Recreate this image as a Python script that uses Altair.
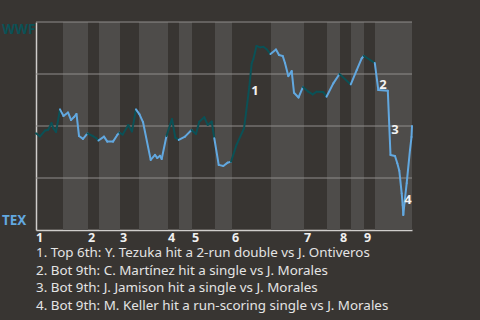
import altair as alt
import pandas as pd

# play position (sequence along the game) and WWF win probability (%)
play = [0, 4, 9, 12, 15.5, 17.5, 20, 24, 27.5, 32, 35, 38, 40.5, 43, 47, 51.5,
        56.5, 60, 62.5, 68, 71.3, 77, 81.3, 83.3, 86.7, 92.3, 96, 100, 103.5, 107,
        114.7, 119, 121.3, 124, 125.7, 130.5, 136, 139.3, 142.8, 149, 155.5, 160,
        163.3, 168.3, 171.7, 175.7, 178.3, 182.7, 187.3, 191.7, 195, 200.5, 208,
        210, 213.3, 215.7, 217.3, 220.5, 224, 227.3, 230.7, 234.5, 240, 243, 246.7,
        249, 252.3, 255.7, 258, 262.5, 267, 272.3, 276.7, 280.7, 287.3, 290.5,
        297.3, 303.5, 314.8, 320.7, 325.7, 327.8, 338.8, 342.3, 351.8, 354.5, 359,
        361.3, 363.3, 365.7, 366.7, 367.3, 368.5, 370.7, 374, 375.5, 376]
wp = [46.5, 45.0, 47.8, 48.1, 51.4, 48.8, 47.1, 58.0, 54.8, 56.5, 52.9, 54.3, 55.8, 45.2, 43.8, 46.5,
      45.2, 44.2, 43.0, 44.9, 42.5, 42.5, 45.7, 46.8, 45.9, 50.5, 47.4, 58.0, 55.6, 51.9,
      33.7, 36.1, 34.6, 35.7, 34.1, 45.2, 53.4, 44.4, 43.3, 44.9, 48.1, 46.2,
      52.1, 54.2, 50.5, 52.1, 44.1, 31.3, 30.8, 32.4, 32.8, 40.9, 48.9,
      56.1, 68.9, 80.1, 82.1, 88.5, 87.8, 88.1, 86.9, 84.6, 86.8, 84.1, 83.7,
      80.3, 74.0, 76.4, 66.0, 63.7, 68.8, 66.5, 65.2, 66.5, 66.3, 64.1,
      70.5, 75.0, 70.0, 76.9, 82.5, 83.7, 80.3, 67.3, 67.0, 36.1, 35.6,
      32.1, 28.5, 17.6, 12.0, 7.2, 13.0, 22.5, 38.5, 44.7, 50.0]

innings = ["1", "2", "3", "4", "5", "6", "7", "8", "9"]
inning_start = [0, 52, 84, 132, 156, 196, 268, 304, 328]
bottom_start = [27, 63, 103, 143, 179, 235, 291, 315, 339]
game_end = 376

event_id = ["1", "2", "3", "4"]
event_play = [219, 347, 359, 372]
event_wp = [66.8, 69.7, 48.1, 14.4]

notes = [
    "1. Top 6th: Y. Tezuka hit a 2-run double vs J. Ontiveros",
    "2. Bot 9th: C. Martínez hit a single vs J. Morales",
    "3. Bot 9th: J. Jamison hit a single vs J. Morales",
    "4. Bot 9th: M. Keller hit a run-scoring single vs J. Morales",
]

grid_values = [25, 50, 75, 100]

TEAL = "#0b5156"
BLUE = "#62a8e0"
BG = "#383532"
BAND = "#4e4c4a"
FONT = "Noto Sans"


def half_of(x):
    for i in range(len(inning_start) - 1, -1, -1):
        if x >= inning_start[i]:
            return "bottom" if x >= bottom_start[i] else "top"
    return "top"


seg_rows = []
for i in range(1, len(play)):
    seg_rows.append({"x": play[i - 1], "x2": play[i], "y": wp[i - 1], "y2": wp[i],
                     "half": half_of(play[i])})
segs = pd.DataFrame(seg_rows)

band_rows = []
for i, b in enumerate(bottom_start):
    end = inning_start[i + 1] if i + 1 < len(inning_start) else game_end
    band_rows.append({"x": b, "x2": end, "lo": 0, "hi": 100})
bands = pd.DataFrame(band_rows)

xs = alt.Scale(domain=[0, game_end], nice=False, zero=False)
ys = alt.Scale(domain=[0, 100], nice=False)

band_layer = alt.Chart(bands).mark_rect(color=BAND).encode(
    x=alt.X("x:Q", scale=xs, axis=alt.Axis(labels=False, ticks=False, grid=False,
                                           title=None, domainColor="#cfcdcb", domainWidth=1.5)),
    x2="x2:Q",
    y=alt.Y("lo:Q", scale=ys, axis=alt.Axis(labels=False, ticks=False, grid=False,
                                            title=None, domainColor="#cfcdcb", domainWidth=1.5)),
    y2="hi:Q",
)

grid_layer = alt.Chart(pd.DataFrame({"g": grid_values})).mark_rule(
    color="#8f8d8b", strokeWidth=1).encode(y=alt.Y("g:Q", scale=ys))

line_layer = alt.Chart(segs).mark_rule(strokeWidth=2, strokeCap="round").encode(
    x=alt.X("x:Q", scale=xs), x2="x2:Q",
    y=alt.Y("y:Q", scale=ys), y2="y2:Q",
    color=alt.Color("half:N", scale=alt.Scale(domain=["top", "bottom"], range=[TEAL, BLUE]),
                    legend=None),
)

event_layer = alt.Chart(pd.DataFrame({"id": event_id, "x": event_play, "y": event_wp})).mark_text(
    font=FONT, fontSize=13, fontWeight="bold", color="#f2f2f2", align="center", baseline="middle"
).encode(x=alt.X("x:Q", scale=xs), y=alt.Y("y:Q", scale=ys), text="id:N")

inning_layer = alt.Chart(pd.DataFrame({"inn": innings, "x": inning_start})).mark_text(
    font=FONT, fontSize=12.5, fontWeight="bold", color="#f0f0f0", align="left",
    baseline="alphabetic"
).encode(x=alt.X("x:Q", scale=xs), y=alt.value(220.3), text="inn:N")

note_df = pd.DataFrame({"t": notes, "row": [0, 1, 2, 3]})
note_df["py"] = 235.0 + note_df["row"] * 17.7
note_layer = alt.Chart(note_df).mark_text(
    font=FONT, fontSize=13.4, color="#e4e4e4", align="left", baseline="alphabetic"
).encode(x=alt.value(0), y=alt.Y("py:Q", scale=None), text="t:N")

team_df = pd.DataFrame({"team": ["WWF", "TEX"], "py": [12.3, 203.3], "c": [TEAL, BLUE]})
team_layer = alt.Chart(team_df).mark_text(
    font=FONT, fontSize=13.5, fontWeight="bold", align="left", baseline="alphabetic"
).encode(x=alt.value(-34), y=alt.Y("py:Q", scale=None), text="team:N",
         color=alt.Color("c:N", scale=None))

chart = alt.layer(
    band_layer, grid_layer, line_layer, event_layer, inning_layer, note_layer, team_layer
).properties(
    width=376, height=208, background=BG,
    autosize=alt.AutoSizeParams(type="none"),
    padding={"left": 36, "top": 22, "right": 68, "bottom": 90},
).configure_view(stroke=None)

chart.save("out.html", embed_options={"renderer": "svg", "actions": False})
